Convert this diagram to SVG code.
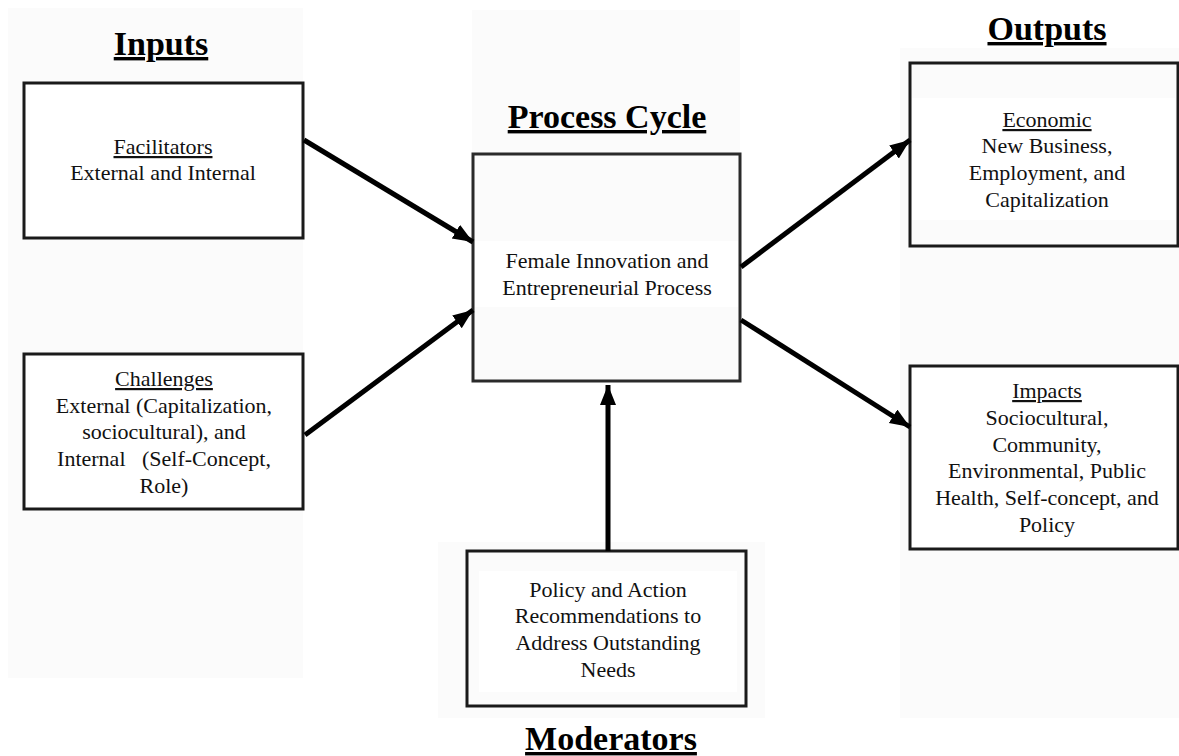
<svg xmlns="http://www.w3.org/2000/svg" width="1179" height="756" viewBox="0 0 1179 756">
<style>
.panel{fill:#fbfbfb;stroke:none}
.box{fill:#ffffff;stroke:#1a1a1a;stroke-width:3}
.inner{fill:#ffffff;stroke:none}
.title{font-family:"Liberation Serif","Times New Roman",serif;font-weight:bold;font-size:34px;fill:#000;text-anchor:middle;text-decoration:underline}
.t{font-family:"Liberation Serif","Times New Roman",serif;font-size:22px;fill:#111;text-anchor:middle}
.u{text-decoration:underline}
.conn{stroke:#000;stroke-width:5;fill:none}
</style>
<defs>
<marker id="arrow" markerUnits="userSpaceOnUse" markerWidth="22" markerHeight="18" refX="20" refY="8" orient="auto" viewBox="0 0 22 18">
<path d="M0,0 L20,8 L0,16 z" fill="#000"/>
</marker>
</defs>
<rect width="1179" height="756" fill="#ffffff"/>
<g id="panels">
<rect class="panel" x="8" y="8" width="295" height="670"/>
<rect class="panel" x="472" y="10" width="268" height="145"/>
<rect class="panel" x="438" y="542" width="327" height="176"/>
<rect class="panel" x="900" y="48" width="279" height="670"/>
</g>
<g id="titles">
<text class="title" x="161" y="55">Inputs</text>
<text class="title" x="607" y="128">Process Cycle</text>
<text class="title" x="1047" y="40">Outputs</text>
<text class="title" x="611" y="750">Moderators</text>
</g>
<g id="facilitators">
<rect class="box" x="24" y="83" width="279" height="155"/>
<rect class="inner" x="48" y="126" width="231" height="67"/>
<text class="t" x="163" y="154"><tspan class="u">Facilitators</tspan></text>
<text class="t" x="163" y="180">External and Internal</text>
</g>
<g id="challenges">
<rect class="box" x="24" y="354" width="279" height="155"/>
<text class="t" x="164" y="386"><tspan class="u">Challenges</tspan></text>
<text class="t" x="164" y="413">External (Capitalization,</text>
<text class="t" x="164" y="439">sociocultural), and</text>
<text class="t" x="164" y="466" xml:space="preserve">Internal   (Self-Concept,</text>
<text class="t" x="164" y="493">Role)</text>
</g>
<g id="process">
<rect class="box" x="473" y="154" width="267" height="227" style="fill:#fbfbfb;stroke:#2a2a2a"/>
<rect class="inner" x="475" y="241" width="263" height="66"/>
<text class="t" x="607" y="268">Female Innovation and</text>
<text class="t" x="607" y="295">Entrepreneurial Process</text>
</g>
<g id="moderator">
<rect class="box" x="467" y="551" width="279" height="155" style="fill:#fbfbfb"/>
<rect class="inner" x="479" y="571" width="258" height="121"/>
<text class="t" x="608" y="597">Policy and Action</text>
<text class="t" x="608" y="623">Recommendations to</text>
<text class="t" x="608" y="650">Address Outstanding</text>
<text class="t" x="608" y="677">Needs</text>
</g>
<g id="economic">
<rect class="box" x="910" y="63" width="268" height="183" style="fill:#fbfbfb"/>
<rect class="inner" x="912" y="98" width="263" height="122"/>
<text class="t" x="1047" y="127"><tspan class="u">Economic</tspan></text>
<text class="t" x="1047" y="153">New Business,</text>
<text class="t" x="1047" y="180">Employment, and</text>
<text class="t" x="1047" y="207">Capitalization</text>
</g>
<g id="impacts">
<rect class="box" x="910" y="366" width="268" height="183"/>
<text class="t" x="1047" y="398"><tspan class="u">Impacts</tspan></text>
<text class="t" x="1047" y="425">Sociocultural,</text>
<text class="t" x="1047" y="452">Community,</text>
<text class="t" x="1047" y="478">Environmental, Public</text>
<text class="t" x="1047" y="505">Health, Self-concept, and</text>
<text class="t" x="1047" y="532">Policy</text>
</g>
<g id="connectors">
<line class="conn" x1="304" y1="140" x2="473" y2="242" marker-end="url(#arrow)"/>
<line class="conn" x1="305" y1="435" x2="473" y2="310" marker-end="url(#arrow)"/>
<line class="conn" x1="741" y1="267" x2="910" y2="140" marker-end="url(#arrow)"/>
<line class="conn" x1="741" y1="320" x2="910" y2="427" marker-end="url(#arrow)"/>
<line class="conn" x1="608" y1="551" x2="608" y2="385" marker-end="url(#arrow)"/>
</g>
</svg>
